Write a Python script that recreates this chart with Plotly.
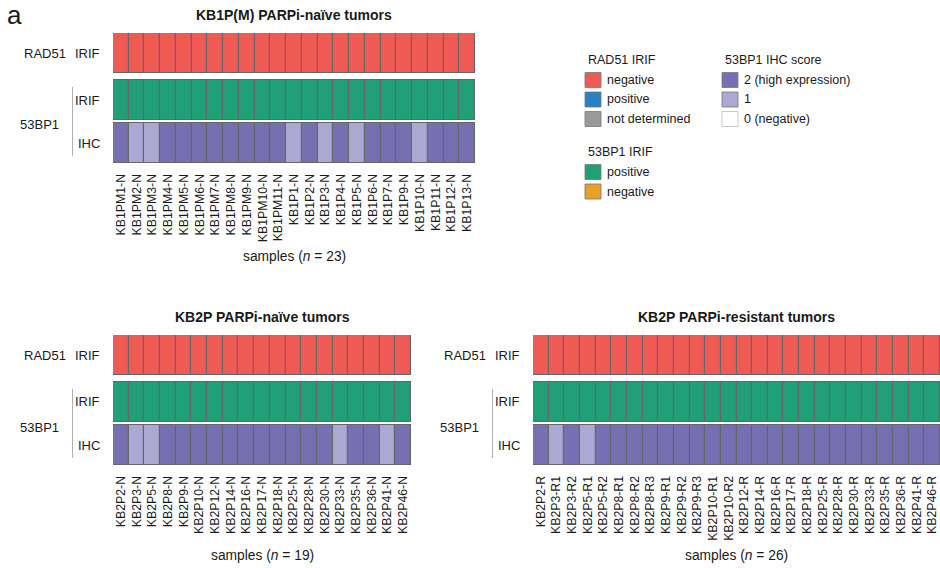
import plotly.graph_objects as go

W, H = 940, 568

# ---------------- data ----------------
p1_title = "KB1P(M) PARPi-naïve tumors"
p1_samples = ["KB1PM1-N", "KB1PM2-N", "KB1PM3-N", "KB1PM4-N", "KB1PM5-N", "KB1PM6-N",
              "KB1PM7-N", "KB1PM8-N", "KB1PM9-N", "KB1PM10-N", "KB1PM11-N", "KB1P1-N",
              "KB1P2-N", "KB1P3-N", "KB1P4-N", "KB1P5-N", "KB1P6-N", "KB1P7-N", "KB1P9-N",
              "KB1P10-N", "KB1P11-N", "KB1P12-N", "KB1P13-N"]
p1_rad51 = ["negative", "negative", "negative", "negative", "negative", "negative",
            "negative", "negative", "negative", "negative", "negative", "negative",
            "negative", "negative", "negative", "negative", "negative", "negative",
            "negative", "negative", "negative", "negative", "negative"]
p1_53bp1_irif = ["positive", "positive", "positive", "positive", "positive", "positive",
                 "positive", "positive", "positive", "positive", "positive", "positive",
                 "positive", "positive", "positive", "positive", "positive", "positive",
                 "positive", "positive", "positive", "positive", "positive"]
p1_53bp1_ihc = [2, 1, 1, 2, 2, 2, 2, 2, 2, 2, 2, 1, 2, 1, 2, 1, 2, 2, 2, 1, 2, 2, 2]

p2_title = "KB2P PARPi-naïve tumors"
p2_samples = ["KB2P2-N", "KB2P3-N", "KB2P5-N", "KB2P8-N", "KB2P9-N", "KB2P10-N",
              "KB2P12-N", "KB2P14-N", "KB2P16-N", "KB2P17-N", "KB2P18-N", "KB2P25-N",
              "KB2P28-N", "KB2P30-N", "KB2P33-N", "KB2P35-N", "KB2P36-N", "KB2P41-N",
              "KB2P46-N"]
p2_rad51 = ["negative", "negative", "negative", "negative", "negative", "negative",
            "negative", "negative", "negative", "negative", "negative", "negative",
            "negative", "negative", "negative", "negative", "negative", "negative",
            "negative"]
p2_53bp1_irif = ["positive", "positive", "positive", "positive", "positive", "positive",
                 "positive", "positive", "positive", "positive", "positive", "positive",
                 "positive", "positive", "positive", "positive", "positive", "positive",
                 "positive"]
p2_53bp1_ihc = [2, 1, 1, 2, 2, 2, 2, 2, 2, 2, 2, 2, 2, 2, 1, 2, 2, 1, 2]

p3_title = "KB2P PARPi-resistant tumors"
p3_samples = ["KB2P2-R", "KB2P3-R1", "KB2P3-R2", "KB2P5-R1", "KB2P5-R2", "KB2P8-R1",
              "KB2P8-R2", "KB2P8-R3", "KB2P9-R1", "KB2P9-R2", "KB2P9-R3", "KB2P10-R1",
              "KB2P10-R2", "KB2P12-R", "KB2P14-R", "KB2P16-R", "KB2P17-R", "KB2P18-R",
              "KB2P25-R", "KB2P28-R", "KB2P30-R", "KB2P33-R", "KB2P35-R", "KB2P36-R",
              "KB2P41-R", "KB2P46-R"]
p3_rad51 = ["negative", "negative", "negative", "negative", "negative", "negative",
            "negative", "negative", "negative", "negative", "negative", "negative",
            "negative", "negative", "negative", "negative", "negative", "negative",
            "negative", "negative", "negative", "negative", "negative", "negative",
            "negative", "negative"]
p3_53bp1_irif = ["positive", "positive", "positive", "positive", "positive", "positive",
                 "positive", "positive", "positive", "positive", "positive", "positive",
                 "positive", "positive", "positive", "positive", "positive", "positive",
                 "positive", "positive", "positive", "positive", "positive", "positive",
                 "positive", "positive"]
p3_53bp1_ihc = [2, 1, 2, 1, 2, 2, 2, 2, 2, 2, 2, 2, 2, 2, 2, 2, 2, 2, 2, 2, 2, 2, 2, 2, 2, 2]

rad51_levels = ["negative", "positive", "not determined"]
irif_levels = ["positive", "negative"]
ihc_levels = [2, 1, 0]
ihc_labels = ["2 (high expression)", "1", "0 (negative)"]

# ---------------- styles ----------------
RAD51_COLORS = {"negative": "#F05A55", "positive": "#2A80C4", "not determined": "#999999"}
IRIF_COLORS = {"positive": "#21A077", "negative": "#E8A02A"}
IHC_COLORS = {2: "#7670B2", 1: "#ABA8D4", 0: "#FFFFFF"}
BORDER = "#666666"
FONT = "Arial"
TXT = "#1a1a1a"

def px(x):
    return x / W

def py(y):
    return 1 - y / H

# row layout in data units (1 unit = one cell height)
ROW_IHC = 0.0
ROW_IRIF = 1.075
ROW_RAD = 2.25
YMAX = 3.25

panels = [
    dict(title=p1_title, samples=p1_samples, rad=p1_rad51, irif=p1_53bp1_irif, ihc=p1_53bp1_ihc,
         x0=113, x1=475, y0=33, y1=163, lab_x=0, samp_y=256),
    dict(title=p2_title, samples=p2_samples, rad=p2_rad51, irif=p2_53bp1_irif, ihc=p2_53bp1_ihc,
         x0=113, x1=411, y0=335, y1=465, lab_x=0, samp_y=555),
    dict(title=p3_title, samples=p3_samples, rad=p3_rad51, irif=p3_53bp1_irif, ihc=p3_53bp1_ihc,
         x0=533, x1=940, y0=335, y1=465, lab_x=420, samp_y=555),
]

fig = go.Figure()
annotations = []
shapes = []

for i, p in enumerate(panels):
    ax = "" if i == 0 else str(i + 1)
    xref, yref = "x" + ax, "y" + ax
    n = len(p["samples"])
    rows = [
        (ROW_RAD, [RAD51_COLORS[v] for v in p["rad"]], p["rad"]),
        (ROW_IRIF, [IRIF_COLORS[v] for v in p["irif"]], p["irif"]),
        (ROW_IHC, [IHC_COLORS[v] for v in p["ihc"]], p["ihc"]),
    ]
    for base, cols, vals in rows:
        fig.add_trace(go.Bar(
            x=p["samples"], y=[1] * n, base=base,
            marker=dict(color=cols, line=dict(color=BORDER, width=1.1)),
            customdata=vals, hovertemplate="%{x}: %{customdata}<extra></extra>",
            xaxis=xref, yaxis=yref, showlegend=False, width=1,
        ))
    fig.layout["xaxis" + ax] = dict(
        domain=[px(p["x0"]), min(px(p["x1"]), 1.0)], anchor=yref,
        type="category", range=[-0.5, n - 0.5], tickangle=-90,
        ticks="outside", ticklen=5, tickcolor="rgba(0,0,0,0)",
        tickfont=dict(family=FONT, size=12.3, color=TXT),
        showgrid=False, zeroline=False, showline=False, fixedrange=True,
    )
    fig.layout["yaxis" + ax] = dict(
        domain=[py(p["y1"]), py(p["y0"])], anchor=xref,
        range=[0, YMAX], showticklabels=False, showgrid=False, zeroline=False,
        showline=False, ticks="", fixedrange=True,
    )
    cx = (p["x0"] + p["x1"]) / 2
    # title
    annotations.append(dict(x=px(cx), y=py(p["y0"] - 18), xref="paper", yref="paper",
                            text="<b>" + p["title"] + "</b>", showarrow=False,
                            font=dict(family=FONT, size=14, color=TXT),
                            xanchor="center", yanchor="middle"))
    # samples label
    annotations.append(dict(x=px(cx), y=py(p["samp_y"]), xref="paper", yref="paper",
                            text="samples (<i>n</i> = %d)" % n, showarrow=False,
                            font=dict(family=FONT, size=13.8, color=TXT),
                            xanchor="center", yanchor="middle"))
    lx = p["lab_x"]
    yrad = p["y0"] + 20
    yirif = p["y0"] + 67
    yihc = p["y0"] + 110
    y53 = p["y0"] + 92
    annotations += [
        dict(x=px(lx + 22), y=py(yrad), text="RAD51", xanchor="left"),
        dict(x=px(lx + 102), y=py(yrad), text="IRIF", xanchor="right"),
        dict(x=px(lx + 18), y=py(y53), text="53BP1", xanchor="left"),
        dict(x=px(lx + 102), y=py(yirif), text="IRIF", xanchor="right"),
        dict(x=px(lx + 102), y=py(yihc), text="IHC", xanchor="right"),
    ]
    for a in annotations[-5:]:
        a.update(xref="paper", yref="paper", showarrow=False, yanchor="middle",
                 font=dict(family=FONT, size=13, color=TXT))
    shapes.append(dict(type="line", xref="paper", yref="paper",
                       x0=px(lx + 72.5), x1=px(lx + 72.5),
                       y0=py(p["y0"] + 54), y1=py(p["y0"] + 123),
                       line=dict(color="#b0b0b0", width=1)))

# panel letter
annotations.append(dict(x=px(5), y=py(15), xref="paper", yref="paper", text="a",
                        showarrow=False, xanchor="left", yanchor="middle",
                        font=dict(family=FONT, size=26, color=TXT)))

# ---------------- legend (drawn manually) ----------------
def legend_block(x, y, title, items):
    annotations.append(dict(x=px(x), y=py(y), xref="paper", yref="paper", text=title,
                            showarrow=False, xanchor="left", yanchor="middle",
                            font=dict(family=FONT, size=12.5, color=TXT)))
    for k, (label, color) in enumerate(items):
        cy = y + 20 + k * 19.5
        shapes.append(dict(type="rect", xref="paper", yref="paper",
                           x0=px(x - 1), x1=px(x + 15), y0=py(cy + 7.5), y1=py(cy - 7.5),
                           fillcolor=color,
                           line=dict(color="#bdbdbd" if color == "#FFFFFF" else "#777777", width=0.8)))
        annotations.append(dict(x=px(x + 19), y=py(cy), xref="paper", yref="paper", text=label,
                                showarrow=False, xanchor="left", yanchor="middle",
                                font=dict(family=FONT, size=12.5, color=TXT)))

legend_block(586, 60, "RAD51 IRIF", [(lv, RAD51_COLORS[lv]) for lv in rad51_levels])
legend_block(586, 152, "53BP1 IRIF", [(lv, IRIF_COLORS[lv]) for lv in irif_levels])
legend_block(723, 60, "53BP1 IHC score", [(lb, IHC_COLORS[lv]) for lv, lb in zip(ihc_levels, ihc_labels)])

fig.update_layout(
    width=W, height=H, margin=dict(l=0, r=0, t=0, b=0),
    paper_bgcolor="white", plot_bgcolor="white",
    barmode="overlay", bargap=0, showlegend=False,
    annotations=annotations, shapes=shapes,
    font=dict(family=FONT, color=TXT),
)

fig.write_html("out.html", config={"displayModeBar": False},
               post_script="document.body.style.margin='0';document.body.style.overflow='hidden';")
